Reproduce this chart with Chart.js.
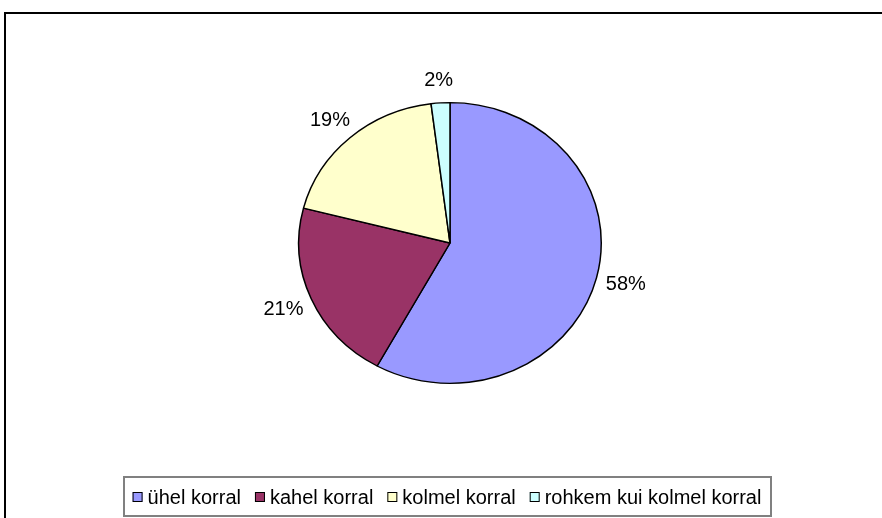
<!DOCTYPE html>
<html>
<head>
<meta charset="utf-8">
<script src="https://cdn.jsdelivr.net/npm/chart.js@4"></script>
<style>
html,body{margin:0;padding:0;background:#fff;}
#wrap{position:relative;width:882px;height:518px;}
</style>
</head>
<body>
<div id="wrap"><canvas id="c" width="882" height="518"></canvas></div>
<script>
const categories = ["ühel korral", "kahel korral", "kolmel korral", "rohkem kui kolmel korral"];
const shares = [58, 21, 19, 2];
const sliceColors = ["#9999FF", "#993366", "#FFFFCC", "#CCFFFF"];

const FONT = "Liberation Sans, Arial, sans-serif";
const Y_RATIO = 0.928; // pie is drawn slightly flattened, as in the reference

const flatten = {
  id: 'flatten',
  beforeDatasetsDraw(chart) {
    const m = chart.getDatasetMeta(0).data[0];
    const ctx = chart.ctx;
    ctx.save();
    ctx.translate(m.x, m.y);
    ctx.scale(1, Y_RATIO);
    ctx.translate(-m.x, -m.y);
  },
  afterDatasetsDraw(chart) {
    chart.ctx.restore();
  }
};

const decor = {
  id: 'decor',
  afterDraw(chart) {
    const ctx = chart.ctx;
    // outer frame
    ctx.save();
    ctx.strokeStyle = '#000';
    ctx.lineWidth = 2;
    ctx.strokeRect(5, 13, 900, 600);

    // slice labels
    const meta = chart.getDatasetMeta(0);
    ctx.font = '20px ' + FONT;
    ctx.fillStyle = '#000';
    ctx.textAlign = 'center';
    ctx.textBaseline = 'middle';
    meta.data.forEach((arc, i) => {
      const mid = (arc.startAngle + arc.endAngle) / 2;
      const x = arc.x + Math.cos(mid) * arc.outerRadius * 1.2;
      const y = arc.y + Math.sin(mid) * arc.outerRadius * Y_RATIO * 1.17;
      ctx.fillText(shares[i] + '%', x, y + 1);
    });

    // legend
    const box = 10, gapText = 5, gapItem = 14;
    const widths = categories.map(t => ctx.measureText(t).width);
    let total = 0;
    widths.forEach((w, i) => { total += box + gapText + w + (i < widths.length - 1 ? gapItem : 0); });
    const centerX = 447;
    let x = centerX - total / 2;
    const ly = 497;
    ctx.strokeStyle = '#808080';
    ctx.lineWidth = 2;
    ctx.strokeRect(Math.round(x - 9), 477, Math.round(total + 18), 39);
    ctx.textAlign = 'left';
    categories.forEach((t, i) => {
      ctx.fillStyle = sliceColors[i];
      ctx.fillRect(x, ly - 5, box, box);
      ctx.strokeStyle = '#000';
      ctx.lineWidth = 1;
      ctx.strokeRect(x + 0.5, ly - 4.5, box - 1, box - 1);
      ctx.fillStyle = '#000';
      ctx.fillText(t, x + box + gapText, ly + 1);
      x += box + gapText + widths[i] + gapItem;
    });
    ctx.restore();
  }
};

new Chart(document.getElementById('c'), {
  type: 'pie',
  data: {
    labels: categories,
    datasets: [{
      data: shares,
      backgroundColor: sliceColors,
      borderColor: '#000',
      borderWidth: 1.5,
      borderAlign: 'center'
    }]
  },
  options: {
    responsive: false,
    animation: false,
    rotation: 0,
    layout: { padding: { left: 298, right: 280, top: 91, bottom: 123 } },
    plugins: { legend: { display: false }, tooltip: { enabled: false } }
  },
  plugins: [flatten, decor]
});
</script>
</body>
</html>
